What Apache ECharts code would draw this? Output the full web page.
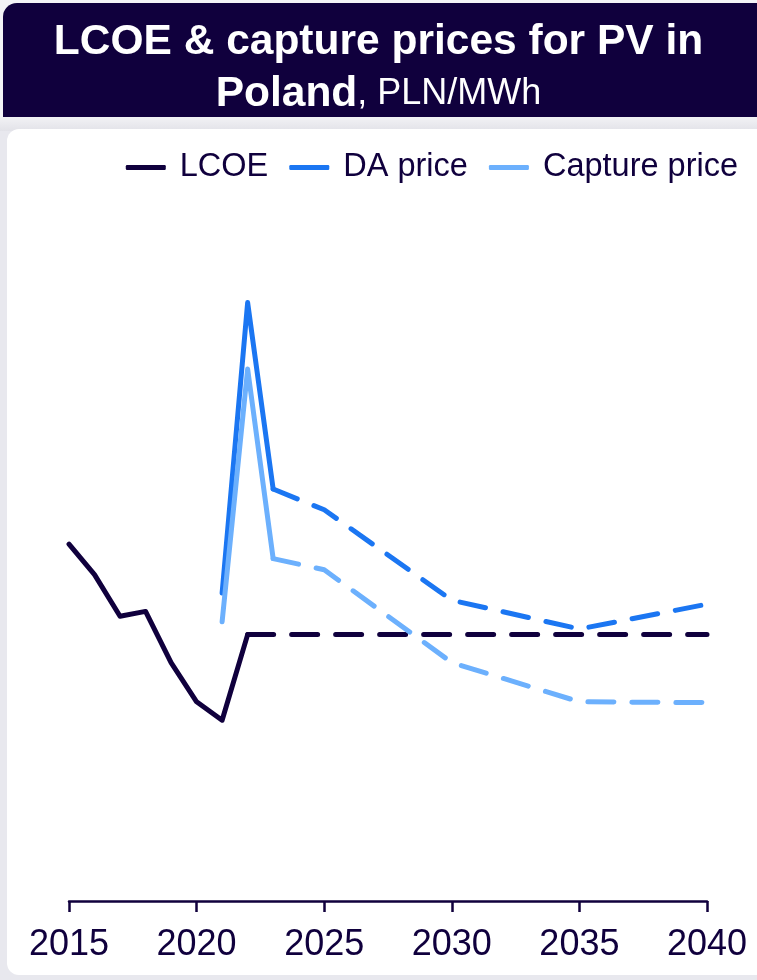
<!DOCTYPE html>
<html>
<head>
<meta charset="utf-8">
<style>
  html, body { margin: 0; padding: 0; background: #e8e8ee; }
  #chart { width: 757px; height: 980px; }
</style>
<script src="https://cdn.jsdelivr.net/npm/echarts@6/dist/echarts.min.js"></script>
</head>
<body>
<div id="chart"></div>
<script>
// PV levelised cost and market prices in Poland, PLN/MWh
const xTicks = [2015, 2020, 2025, 2030, 2035, 2040];

// LCOE: historical (solid) and projection (dashed)
const lcoeHistYears = [2015, 2016, 2017, 2018, 2019, 2020, 2021, 2022];
const lcoeHist = [446, 408, 356, 362, 298, 249, 226, 333];
const lcoeProjYears = [2022, 2023, 2025, 2030, 2035, 2040];
const lcoeProj = [333, 333, 333, 333, 333, 333];

// Day-ahead baseload price
const daHistYears = [2021, 2022, 2023];
const daHist = [385, 748, 515];
const daProjYears = [2023, 2025, 2030, 2035, 2040];
const daProj = [515, 489, 376, 340, 371];

// PV capture price
const capHistYears = [2021, 2022, 2023];
const capHist = [349, 665, 428];
const capProjYears = [2023, 2025, 2030, 2035, 2040];
const capProj = [428, 414, 298, 249, 248];

const NAVY = '#10003d';
const BLUE = '#1b76f2';
const LIGHT = '#6cb0fd';
const FONT = '"Liberation Sans", Arial, sans-serif';

const pairs = (xs, ys) => xs.map((x, i) => [x, ys[i]]);

function line(name, xs, ys, color, dashed) {
  return {
    name: name,
    type: 'line',
    data: pairs(xs, ys),
    symbol: 'none',
    smooth: false,
    z: 3,
    lineStyle: {
      color: color,
      width: 5,
      type: dashed ? [26, 18] : 'solid',
      cap: 'round',
      join: 'round'
    },
    itemStyle: { color: color },
    emphasis: { disabled: true }
  };
}

const chart = echarts.init(document.getElementById('chart'), null, { renderer: 'canvas' });

chart.setOption({
  backgroundColor: '#e8e8ee',
  animation: false,
  graphic: [
    { type: 'rect', z: -10, silent: true,
      shape: { x: 0, y: 0, width: 757, height: 118 },
      style: { fill: '#f4f4f7' } },
    { type: 'rect', z: -9, silent: true,
      shape: { x: 3, y: 3, width: 780, height: 114, r: [14, 14, 0, 0] },
      style: { fill: NAVY } },
    { type: 'rect', z: -9, silent: true,
      shape: { x: 0, y: 117, width: 757, height: 14 },
      style: { fill: new echarts.graphic.LinearGradient(0, 0, 0, 1, [
        { offset: 0, color: '#f2f2f5' }, { offset: 1, color: '#e2e2e8' }]) } },
    { type: 'rect', z: -8, silent: true,
      shape: { x: 7, y: 129, width: 780, height: 846, r: 12 },
      style: { fill: '#ffffff' } }
  ],
  title: [
    {
      left: 'center',
      top: 16,
      text: 'LCOE & capture prices for PV in',
      textStyle: { fontFamily: FONT, fontWeight: 'bold', fontSize: 42.5, color: '#ffffff' }
    },
    {
      left: 'center',
      top: 68,
      text: '{b|Poland}{r|, PLN/MWh}',
      textStyle: {
        rich: {
          b: { fontFamily: FONT, fontWeight: 'bold', fontSize: 42.5, color: '#ffffff' },
          r: { fontFamily: FONT, fontWeight: 'normal', fontSize: 36, color: '#ffffff' }
        }
      }
    }
  ],
  legend: {
    data: ['LCOE', 'DA price', 'Capture price'],
    right: 14,
    top: 146,
    icon: 'roundRect',
    itemWidth: 40,
    itemHeight: 5,
    itemGap: 21,
    textStyle: { fontFamily: FONT, fontSize: 32.5, color: NAVY, padding: [0, 0, 0, 9] }
  },
  grid: { left: 69, right: 50, top: 101, bottom: 79, containLabel: false },
  xAxis: {
    type: 'value',
    min: 2015,
    max: 2040,
    interval: 5,
    axisLine: { show: true, lineStyle: { color: NAVY, width: 2.5 } },
    axisTick: { show: true, length: 11, lineStyle: { color: NAVY, width: 2.5 } },
    splitLine: { show: false },
    axisLabel: {
      margin: 26,
      fontFamily: FONT,
      fontSize: 36,
      color: NAVY,
      customValues: xTicks,
      formatter: v => String(v)
    }
  },
  yAxis: { type: 'value', min: 0, max: 1000, show: false, splitLine: { show: false } },
  series: [
    line('LCOE', lcoeHistYears, lcoeHist, NAVY, false),
    line('LCOE forecast', lcoeProjYears, lcoeProj, NAVY, true),
    line('DA price', daHistYears, daHist, BLUE, false),
    line('DA price forecast', daProjYears, daProj, BLUE, true),
    line('Capture price', capHistYears, capHist, LIGHT, false),
    line('Capture price forecast', capProjYears, capProj, LIGHT, true)
  ]
});
</script>
</body>
</html>
